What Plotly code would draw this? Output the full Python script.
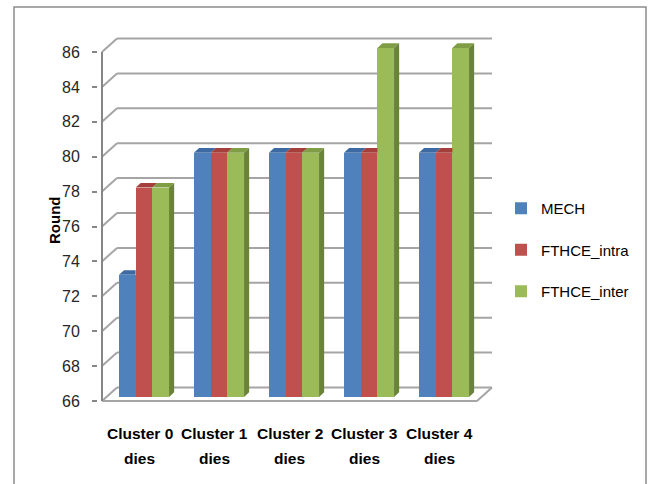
import numpy as np
import plotly.graph_objects as go

categories = ["Cluster 0", "Cluster 1", "Cluster 2", "Cluster 3", "Cluster 4"]
cat_line2 = ["dies", "dies", "dies", "dies", "dies"]
series_names = ["MECH", "FTHCE_intra", "FTHCE_inter"]
mech = [73, 80, 80, 80, 80]
fthce_intra = [78, 80, 80, 80, 80]
fthce_inter = [78, 80, 80, 86, 86]
y_ticks = [66, 68, 70, 72, 74, 76, 78, 80, 82, 84, 86]

series_values = [mech, fthce_intra, fthce_inter]
front_colors = ["#4F81BD", "#C0504D", "#9BBB59"]
top_colors = ["#3D6AA2", "#A43F3C", "#7F9D45"]
side_colors = ["#35598A", "#8A3331", "#6A833A"]

FONT = "Liberation Sans, Arial, sans-serif"

W, H = 652, 484
ml, mr, mt, mb = 98, 156, 36, 80
pw, ph = W - ml - mr, H - mt - mb
px_x = 75.0        # px per category
px_y = 17.45       # px per value unit
x0 = -0.5 - 4 / px_x
x1 = x0 + pw / px_x
y0 = 66 - 3 / px_y
y1 = y0 + ph / px_y

dx = 15 / px_x     # depth offset of back wall
dy = 13.5 / px_y
s_frac = 0.3       # bar front position in depth
b_frac = 0.34      # bar depth fraction
sx, sy = s_frac * dx, s_frac * dy
ddx, ddy = b_frac * dx, b_frac * dy
bw = 16.7 / px_x   # bar width
ymin = y_ticks[0]

fig = go.Figure()

ncat = len(categories)
xs = np.arange(ncat)
for j, (name, vals) in enumerate(zip(series_names, series_values)):
    xc = xs + (j - 1) * bw + sx
    fig.add_trace(go.Bar(
        x=xc, y=[v - ymin for v in vals], base=ymin + sy, width=bw,
        name=name, marker=dict(color=front_colors[j], line=dict(width=0)),
        legendgroup=name, showlegend=True, hoverinfo="skip"))

# top and side faces
for i in range(ncat):
    for j in range(len(series_names)):
        v = series_values[j][i]
        t = v + sy
        b = ymin + sy
        xl = i + (j - 1) * bw + sx - bw / 2
        xr = xl + bw
        nxt = series_values[j + 1][i] if j + 1 < len(series_names) else None
        if nxt is not None and nxt > v:
            px = [xl, xr, xr, xl + ddx, xl]
        else:
            px = [xl, xr, xr + ddx, xl + ddx, xl]
        py = [t, t, t + ddy, t + ddy, t]
        fig.add_trace(go.Scatter(x=px, y=py, fill="toself", mode="lines",
                                 line=dict(width=0), fillcolor=top_colors[j],
                                 showlegend=False, hoverinfo="skip"))
        if nxt is None or nxt < v:
            lo = b if nxt is None else nxt + sy
            fig.add_trace(go.Scatter(
                x=[xr, xr, xr + ddx, xr + ddx, xr],
                y=[lo, t, t + ddy, lo + ddy, lo], fill="toself", mode="lines",
                line=dict(width=0), fillcolor=side_colors[j],
                showlegend=False, hoverinfo="skip"))

grid_col = "#A5A5A5"
shapes = []
xa = -0.5
xb = ncat - 0.5
for v in y_ticks:
    shapes.append(dict(type="line", xref="x", yref="y", x0=xa, y0=v, x1=xa + dx, y1=v + dy,
                       line=dict(color=grid_col, width=2), layer="below"))
    shapes.append(dict(type="line", xref="x", yref="y", x0=xa + dx, y0=v + dy, x1=xb + dx, y1=v + dy,
                       line=dict(color=grid_col, width=2), layer="below"))
# floor
shapes.append(dict(type="line", xref="x", yref="y", x0=xa, y0=ymin, x1=xb, y1=ymin,
                   line=dict(color=grid_col, width=2), layer="below"))
shapes.append(dict(type="line", xref="x", yref="y", x0=xb, y0=ymin, x1=xb + dx, y1=ymin + dy,
                   line=dict(color=grid_col, width=2), layer="below"))
# vertical axis line
shapes.append(dict(type="line", xref="x", yref="y", x0=xa, y0=ymin, x1=xa, y1=y_ticks[-1],
                   line=dict(color="#868686", width=2), layer="below"))
# outer frame
shapes.append(dict(type="rect", xref="paper", yref="paper",
                   x0=(14 - ml) / pw, x1=(646 - ml) / pw,
                   y0=(H - mb - 520) / ph, y1=(H - mb - 7) / ph,
                   line=dict(color="#8C8C8C", width=1.5), layer="below"))

annotations = []
for i in range(ncat):
    annotations.append(dict(x=i, y=ymin, xref="x", yref="y", text=categories[i],
                            showarrow=False, yshift=-32, yanchor="middle",
                            font=dict(family=FONT, size=15.5, color="#000000", weight="bold")))
    annotations.append(dict(x=i, y=ymin, xref="x", yref="y", text=cat_line2[i],
                            showarrow=False, yshift=-57, yanchor="middle",
                            font=dict(family=FONT, size=15.5, color="#000000", weight="bold")))
annotations.append(dict(x=(54 - ml) / pw, y=(H - mb - 221) / ph, xref="paper", yref="paper",
                        text="Round", textangle=-90, showarrow=False,
                        xanchor="center", yanchor="middle",
                        font=dict(family=FONT, size=15, color="#000000", weight="bold")))

fig.update_layout(
    width=W, height=H, margin=dict(l=ml, r=mr, t=mt, b=mb),
    paper_bgcolor="white", plot_bgcolor="white",
    barmode="overlay", bargap=0,
    shapes=shapes, annotations=annotations,
    xaxis=dict(range=[x0, x1], showgrid=False, zeroline=False, showline=False,
               showticklabels=False, ticks="", fixedrange=True),
    yaxis=dict(range=[y0, y1], showgrid=False, zeroline=False, showline=False,
               tickvals=y_ticks, ticks="outside", ticklen=5, tickwidth=2,
               tickcolor="#868686", ticklabelstandoff=9,
               tickfont=dict(family=FONT, size=16, color="#262626"), fixedrange=True),
    legend=dict(x=(501 - ml) / pw, y=(H - mb - 250) / ph, xanchor="left", yanchor="middle",
                font=dict(family=FONT, size=15, color="#000000"),
                traceorder="grouped", tracegroupgap=19, bgcolor="rgba(0,0,0,0)"),
    showlegend=True,
)

fig.write_html("out.html")
